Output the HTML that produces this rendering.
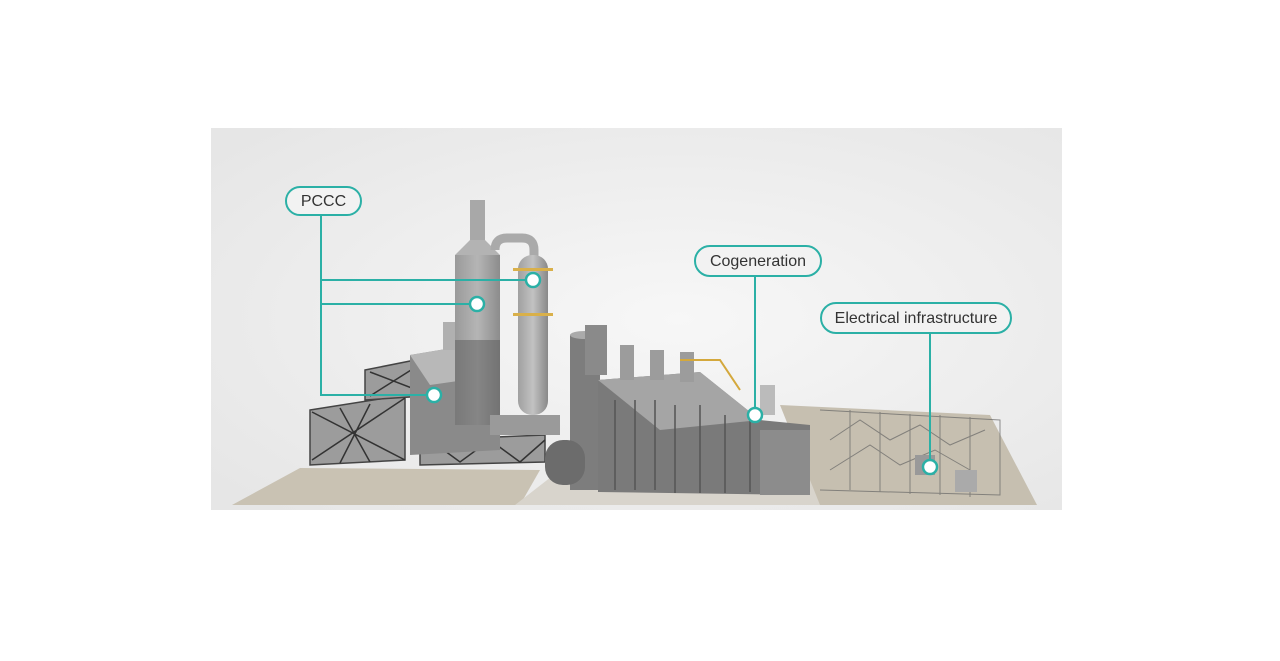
<!DOCTYPE html>
<html><head><meta charset="utf-8"><style>
html,body{margin:0;padding:0;background:#fff;}
body{width:1280px;height:661px;overflow:hidden;position:relative;font-family:"Liberation Sans",sans-serif;}
.lbl{position:absolute;border:2px solid #2bb0a6;border-radius:16px;background:#f2f2f2;color:#333;font-size:16px;text-align:center;box-sizing:border-box;}
</style></head><body>
<svg width="1280" height="661" style="position:absolute;left:0;top:0">
<defs>
<radialGradient id="bg" cx="0.55" cy="0.5" r="0.7"><stop offset="0" stop-color="#f7f7f7"/><stop offset="1" stop-color="#e6e6e6"/></radialGradient>
<linearGradient id="tw" x1="0" x2="1"><stop offset="0" stop-color="#9a9a9a"/><stop offset="0.5" stop-color="#b5b5b5"/><stop offset="1" stop-color="#8c8c8c"/></linearGradient>
<linearGradient id="col" x1="0" x2="1"><stop offset="0" stop-color="#a0a0a0"/><stop offset="0.5" stop-color="#c2c2c2"/><stop offset="1" stop-color="#888"/></linearGradient>
</defs>
<rect x="211" y="128" width="851" height="382" fill="url(#bg)"/>
<polygon points="232,505 300,468 540,470 520,505" fill="#c9c2b3"/>
<polygon points="515,505 560,470 850,470 850,505" fill="#d8d4cc"/>
<polygon points="780,405 990,415 1037,505 820,505" fill="#c6bfb0"/>
<g stroke="#666" stroke-width="1" fill="none" opacity="0.7">
<path d="M820,410 L1000,420 L1000,495 L820,490"/>
<path d="M830,440 L860,420 L890,440 L920,425 L950,445 L985,430"/>
<path d="M830,470 L870,445 L900,465 L935,450 L970,470"/>
<path d="M850,410 v80 M880,412 v80 M910,414 v80 M940,415 v80 M970,417 v80"/>
</g>
<rect x="955" y="470" width="22" height="22" fill="#aaa"/>
<rect x="915" y="455" width="20" height="20" fill="#999"/>
<g fill="#9c9c9c" stroke="#444" stroke-width="1.5">
<polygon points="310,410 405,395 405,460 310,465"/>
<polygon points="365,370 440,355 440,395 365,400"/>
<polygon points="420,440 545,435 545,462 420,465"/>
</g>
<g stroke="#333" stroke-width="1.5" fill="none">
<path d="M312,412 L405,460 M312,460 L405,398 M340,408 L370,462 M370,404 L340,463"/>
<path d="M430,440 L460,462 L490,440 L520,462 L545,440"/>
<path d="M370,372 L430,395 M370,396 L430,358"/>
</g>
<polygon points="410,355 470,345 500,375 500,450 410,455" fill="#8a8a8a"/>
<polygon points="410,355 470,345 500,375 430,385" fill="#b8b8b8"/>
<rect x="443" y="322" width="16" height="28" fill="#b0b0b0"/>
<rect x="470" y="200" width="15" height="40" fill="#a8a8a8"/>
<polygon points="470,240 485,240 500,255 455,255" fill="#b3b3b3"/>
<rect x="455" y="255" width="45" height="170" fill="url(#tw)"/>
<rect x="455" y="340" width="45" height="85" fill="#5f5f5f" opacity="0.55"/>
<path d="M495,250 q0,-12 12,-12 h15 q12,0 12,12 v8" stroke="#aaa" stroke-width="9" fill="none"/>
<rect x="518" y="255" width="30" height="160" rx="14" fill="url(#col)"/>
<rect x="513" y="268" width="40" height="3" fill="#d9b04a"/>
<rect x="513" y="313" width="40" height="3" fill="#d9b04a"/>
<rect x="490" y="415" width="70" height="20" fill="#9a9a9a"/>
<rect x="570" y="335" width="30" height="155" fill="#7d7d7d"/>
<ellipse cx="585" cy="335" rx="15" ry="4" fill="#aaa"/>
<rect x="585" y="325" width="22" height="50" fill="#8a8a8a"/>
<rect x="545" y="440" width="40" height="45" rx="18" fill="#6c6c6c"/>
<polygon points="598,380 700,372 760,420 810,425 810,495 598,492" fill="#7a7a7a"/>
<polygon points="598,380 700,372 760,420 660,430" fill="#a5a5a5"/>
<g stroke="#555" stroke-width="1.5"><path d="M615,400 v90 M635,400 v90 M655,400 v90 M675,405 v88 M700,405 v88 M725,415 v78 M750,420 v72"/></g>
<rect x="760" y="430" width="50" height="65" fill="#8c8c8c"/>
<g fill="#9c9c9c"><rect x="620" y="345" width="14" height="35"/><rect x="650" y="350" width="14" height="30"/><rect x="680" y="352" width="14" height="30"/></g>
<path d="M680,360 h40 l20,30" stroke="#d4a83c" stroke-width="2" fill="none"/>
<rect x="760" y="385" width="15" height="30" fill="#bbb"/>
<g stroke="#2bb0a6" stroke-width="2" fill="none">
<path d="M321,215 V395 H434 M321,280 H533 M321,304 H477"/>
<path d="M755,276 V415"/>
<path d="M930,333 V467"/>
</g>
<g fill="#fff" stroke="#2bb0a6" stroke-width="2.5">
<circle cx="533" cy="280" r="7"/><circle cx="477" cy="304" r="7"/><circle cx="434" cy="395" r="7"/>
<circle cx="755" cy="415" r="7"/><circle cx="930" cy="467" r="7"/>
</g>
</svg>
<div class="lbl" style="left:285px;top:186px;width:77px;height:30px;line-height:28px;">PCCC</div>
<div class="lbl" style="left:694px;top:245px;width:128px;height:32px;line-height:29px;">Cogeneration</div>
<div class="lbl" style="left:820px;top:302px;width:192px;height:32px;line-height:29px;">Electrical infrastructure</div>
</body></html>
